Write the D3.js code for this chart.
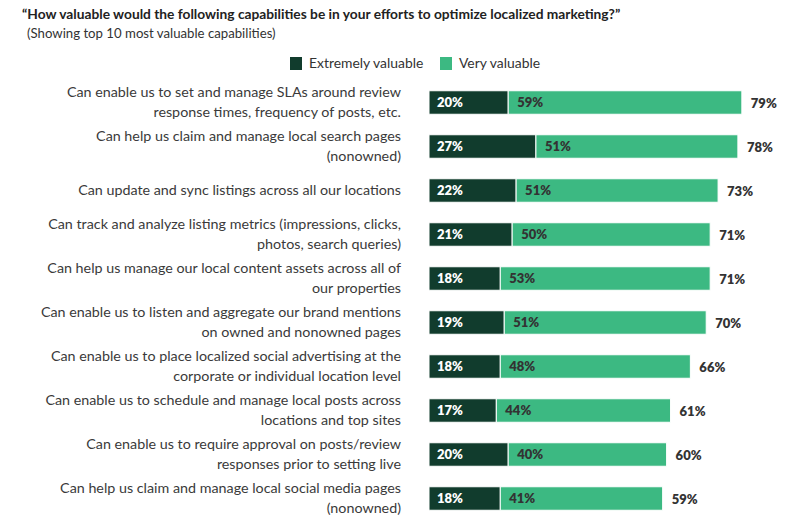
<!DOCTYPE html>
<html><head><meta charset="utf-8">
<script src="https://cdn.jsdelivr.net/npm/d3@7"></script>
<style>body{margin:0;background:#fff}svg{display:block}</style>
</head><body>
<svg id="c" width="800" height="531"></svg>
<script>
const categories = [
  ["Can enable us to set and manage SLAs around review","response times, frequency of posts, etc."],
  ["Can help us claim and manage local search pages","(nonowned)"],
  ["Can update and sync listings across all our locations"],
  ["Can track and analyze listing metrics (impressions, clicks,","photos, search queries)"],
  ["Can help us manage our local content assets across all of","our properties"],
  ["Can enable us to listen and aggregate our brand mentions","on owned and nonowned pages"],
  ["Can enable us to place localized social advertising at the","corporate or individual location level"],
  ["Can enable us to schedule and manage local posts across","locations and top sites"],
  ["Can enable us to require approval on posts/review","responses prior to setting live"],
  ["Can help us claim and manage local social media pages","(nonowned)"]
];
const extremelyValuable = [20,27,22,21,18,19,18,17,20,18];
const veryValuable = [59,51,51,50,53,51,48,44,40,41];
const totals = [79,78,73,71,71,70,66,61,60,59];
const seriesNames = ["Extremely valuable","Very valuable"];
const colors = ["#113c2d","#3cb982"];
const title = "\u201CHow valuable would the following capabilities be in your efforts to optimize localized marketing?\u201D";
const subtitle = "(Showing top 10 most valuable capabilities)";

const font = "Lato, 'Open Sans', sans-serif";
const svg = d3.select("#c");
const ids = d3.range(categories.length);
const x = d3.scaleLinear().domain([0,100]).range([429,825]);
const y = d3.scaleBand().domain(ids).range([80.5,520.5]).paddingInner(0.466).paddingOuter(0.233);

svg.append("text").attr("x",22).attr("y",19).attr("font-family",font).attr("font-weight",700)
  .attr("font-size",13.75).attr("fill","#222").text(title);
svg.append("text").attr("x",27).attr("y",38).attr("font-family",font)
  .attr("font-size",13.2).attr("fill","#333").text(subtitle);

// legend
const leg = svg.append("g");
const legX = [290,440];
seriesNames.forEach((n,i)=>{
  leg.append("rect").attr("x",legX[i]).attr("y",57).attr("width",12).attr("height",13).attr("fill",colors[i]);
  leg.append("text").attr("x",legX[i]+19).attr("y",68).attr("font-family",font).attr("font-size",13.9)
    .attr("fill","#333").text(n);
});

// labels
const lab = svg.append("g");
ids.forEach(i=>{
  const lines = categories[i];
  const cy = y(i)+y.bandwidth()/2;
  const lh = 20;
  const t = lab.append("text").attr("text-anchor","end").attr("font-family",font).attr("font-size",14.3).attr("fill","#3a3a3a");
  lines.forEach((l,j)=>{
    t.append("tspan").attr("x",401).attr("y",cy + (j-(lines.length-1)/2)*lh + 4.8).text(l);
  });
});

// bars
const g = svg.append("g");
g.selectAll("rect.e").data(ids).join("rect").attr("class","e")
  .attr("x",x(0)).attr("y",i=>y(i)).attr("width",i=>x(extremelyValuable[i])-x(0)).attr("height",y.bandwidth())
  .attr("fill",colors[0]).attr("stroke","#fff").attr("stroke-width",1);
g.selectAll("rect.v").data(ids).join("rect").attr("class","v")
  .attr("x",i=>x(extremelyValuable[i])).attr("y",i=>y(i)).attr("width",i=>x(extremelyValuable[i]+veryValuable[i])-x(extremelyValuable[i])).attr("height",y.bandwidth())
  .attr("fill",colors[1]).attr("stroke","#fff").attr("stroke-width",1);

g.selectAll("text.e").data(ids).join("text").attr("class","e")
  .attr("x",x(0)+8).attr("y",i=>y(i)+y.bandwidth()/2+4.5).attr("font-family",font).attr("font-weight",800)
  .attr("font-size",13).attr("fill","#fff").text(i=>extremelyValuable[i]+"%");
g.selectAll("text.v").data(ids).join("text").attr("class","v")
  .attr("x",i=>x(extremelyValuable[i])+9).attr("y",i=>y(i)+y.bandwidth()/2+4.5).attr("font-family",font).attr("font-weight",800)
  .attr("font-size",13).attr("fill","#333").text(i=>veryValuable[i]+"%");
g.selectAll("text.t").data(ids).join("text").attr("class","t")
  .attr("x",i=>x(extremelyValuable[i]+veryValuable[i])+9).attr("y",i=>y(i)+y.bandwidth()/2+5).attr("font-family",font).attr("font-weight",800)
  .attr("font-size",13).attr("fill","#333").text(i=>totals[i]+"%");
</script>
</body></html>
